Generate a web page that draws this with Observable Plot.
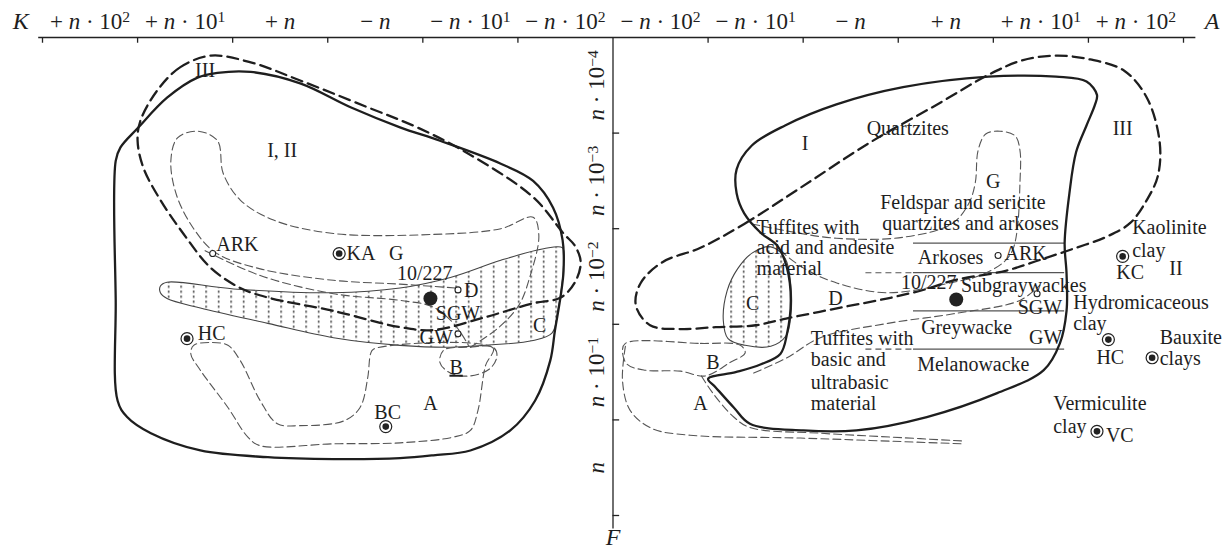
<!DOCTYPE html>
<html><head><meta charset="utf-8">
<script src="https://cdn.jsdelivr.net/npm/d3@7"></script>
<script src="https://cdn.jsdelivr.net/npm/@observablehq/plot@0.6"></script>
<style>body{margin:0;background:#fff}</style>
</head><body><div id="chart"></div>
<script>
// Diagram units: one axis interval = 100 units (x: 0..1200, y: 0..500 downward)
const xTicks = [0,100,200,300,400,500,600,700,800,900,1000,1100,1200];
const yTicks = [100,200,300,400,500];
const topLabels = ["+ n · 10^2","+ n · 10^1","+ n","− n","− n · 10^1","− n · 10^2","− n · 10^2","− n · 10^1","− n","+ n","+ n · 10^1","+ n · 10^2"];
const sideLabels = ["n · 10^−4","n · 10^−3","n · 10^−2","n · 10^−1","n"];

// ---- left diagram ----
const leftOuter = [[77,275],[77,129],[82,115],[100,95],[131,63],[163,42],[184,37],[219,36],[271,48],[324,73],[376,94],[418,108],[482,132],[516,150],[537,178],[547,212],[548,244],[545,270],[539,306],[534,338],[518,380],[492,411],[450,432],[411,437],[376,440],[306,441],[237,439],[166,432],[114,414],[89,397],[79,380]];
const leftIII = [[177,19],[145,31],[121,55],[103,87],[100,108],[106,136],[124,170],[148,205],[177,241],[208,262],[237,272],[306,286],[376,303],[411,306],[464,293],[516,278],[545,272],[560,256],[566,235],[560,218],[548,205],[516,167],[447,121],[394,94],[342,73],[271,45],[219,26]];
const leftG = [[434,262],[376,258],[306,254],[229,242],[182,225],[159,200],[141,165],[135,129],[142,105],[163,98],[184,108],[190,142],[208,170],[243,191],[306,205],[411,206],[482,200],[516,188],[522,207],[513,249],[501,280],[479,304],[450,324]];
const leftArkLine = [[171,223],[229,249],[306,268],[376,275],[411,282],[434,301],[448,322]];
const leftB = [[422,327],[418,340],[429,351],[450,354],[471,346],[478,333],[474,324],[448,324]];
const leftA = [[348,326],[474,325],[466,343],[458,390],[450,411],[432,418],[376,424],[306,425],[229,427],[216,418],[195,387],[166,348],[156,331],[159,322],[177,319],[195,322],[208,338],[229,380],[247,404],[271,406],[317,401],[334,387],[342,356],[345,331]];
const leftHatch = [[124,260],[131,256],[201,263],[306,267],[376,262],[429,251],[482,233],[527,221],[547,220],[548,238],[542,286],[536,309],[516,317],[464,322],[429,324],[376,322],[306,314],[237,299],[166,283],[131,273],[124,267]];

// ---- right diagram ----
const rightOuter = [[1109,60],[1098,46],[1066,41],[995,41],[905,52],[835,70],[781,92],[746,113],[730,138],[730,163],[738,184],[755,204],[773,218],[783,241],[787,275],[783,310],[776,331],[755,342],[729,350],[700,357],[708,366],[727,387],[744,404],[800,411],[856,411],[930,397],[1004,372],[1053,348],[1070,320],[1077,286],[1077,247],[1075,215],[1080,163],[1087,120],[1098,92],[1107,70]];
const rightIII = [[692,220],[738,195],[799,156],[870,110],[941,70],[995,39],[1030,24],[1066,19],[1102,23],[1138,35],[1162,64],[1175,110],[1173,145],[1162,169],[1144,194],[1120,208],[1084,221],[1048,233],[1013,244],[958,254],[930,263],[893,272],[842,282],[782,294],[750,301],[708,303],[671,305],[639,301],[624,280],[629,257],[652,235]];
const rightC = [[716,296],[720,265],[731,242],[747,225],[766,219],[781,231],[787,259],[787,291],[782,312],[766,323],[739,322],[721,315]];
const rightGD = [[746,195],[781,202],[835,210],[905,209],[956,195],[974,174],[981,152],[984,118],[992,101],[1007,98],[1023,103],[1028,118],[1028,152],[1025,202],[1020,223],[1011,235],[986,249],[958,256],[889,267],[836,257],[800,241],[776,223]];
const rightBline = [[748,351],[783,335],[818,314],[889,299],[958,289],[1028,275],[1049,259]];
const rightB = [[613,320],[692,320],[734,322],[739,330],[723,340],[697,354],[671,349],[634,348],[615,342],[610,329]];
const rightAouter = [[613,323],[610,359],[618,390],[641,409],[681,416],[797,419],[967,425]];
const rightAinner = [[693,354],[705,372],[727,397],[744,408],[819,414],[893,418],[967,422]];
const rockLevels = [215,246,286,326];          // boundaries between rock-name bands
const rockSpan = [916,1075];
const dashedLevels = [246,326];
const dashedSpan = [866,916];

// ---- labels ----
const plainLabels = [
  {x:171,y:35,t:"III"},{x:252,y:118,t:"I, II"},{x:205,y:217,t:"ARK"},{x:335,y:226,t:"KA"},{x:372,y:226,t:"G"},
  {x:402,y:247,t:"10/227"},{x:451,y:265,t:"D"},{x:437,y:289,t:"SGW"},{x:414,y:314,t:"GW"},{x:523,y:301,t:"C"},
  {x:178,y:310,t:"HC"},{x:408,y:383,t:"A"},{x:363,y:392,t:"BC"},
  {x:802,y:111,t:"I"},{x:910,y:95,t:"Quartzites"},{x:1136,y:95,t:"III"},{x:1000,y:151,t:"G"},
  {x:968,y:173,t:"Feldspar and sericite"},{x:976,y:195,t:"quartzites and arkoses"},
  {x:955,y:230,t:"Arkoses"},{x:1034,y:226,t:"ARK"},{x:1144,y:246,t:"KC"},{x:1192,y:242,t:"II"},
  {x:932,y:256,t:"10/227"},{x:1032,y:259,t:"Subgraywackes"},{x:834,y:273,t:"D"},{x:747,y:278,t:"C"},
  {x:1049,y:283,t:"SGW"},{x:1123,y:335,t:"HC"},{x:972,y:303,t:"Greywacke"},{x:1055,y:314,t:"GW"},
  {x:979,y:342,t:"Melanowacke"},{x:705,y:340,t:"B"},{x:692,y:383,t:"A"},{x:1133,y:416,t:"VC"},
  {x:435,y:345,t:"_B"}
];
const startLabels = [
  {x:751,y:199,t:"Tuffites with"},{x:751,y:220,t:"acid and andesite"},{x:751,y:242,t:"material"},
  {x:1146,y:199,t:"Kaolinite"},{x:1146,y:223,t:"clay"},
  {x:1084,y:277,t:"Hydromicaceous"},{x:1084,y:299,t:"clay"},
  {x:1175,y:314,t:"Bauxite"},{x:1175,y:336,t:"clays"},
  {x:808,y:315,t:"Tuffites with"},{x:808,y:337,t:"basic and"},{x:808,y:361,t:"ultrabasic"},{x:808,y:383,t:"material"},
  {x:1063,y:383,t:"Vermiculite"},{x:1063,y:407,t:"clay"}
];
const openPoints = [[179,226],[437,264],[437,310],[1005,228],[1046,268]];
const ringPoints = [[312,226],[152,315],[361,407],[1136,229],[1121,316],[1167,335],[1109,412]];
const samplePoints = [[408,273],[961,274]];

const X = d => d[0], Y = d => d[1];
const thick = {x:X, y:Y, stroke:"#1e1e1e", strokeWidth:2.3, curve:"catmull-rom-closed"};
const thickDash = {...thick, strokeDasharray:"11,6"};
const thinDash = {x:X, y:Y, stroke:"#555", strokeWidth:1.1, strokeDasharray:"8,4", curve:"catmull-rom"};

const plot = Plot.plot({
  width:1229, height:550,
  marginLeft:42, marginRight:46, marginTop:37, marginBottom:35,
  x:{domain:[0,1200], axis:null},
  y:{domain:[0,500], reverse:true, axis:null},
  style:{fontFamily:"'Liberation Serif', 'DejaVu Serif', serif", fontSize:"20px", background:"#fff", color:"#1e1e1e", overflow:"visible"},
  marks:[
    Plot.line(leftHatch, {x:X, y:Y, curve:"catmull-rom-closed", fill:"url(#vdots)", stroke:"#444", strokeWidth:1.1}),
    Plot.line(rightC, {x:X, y:Y, curve:"catmull-rom-closed", fill:"url(#vdots)", stroke:"#444", strokeWidth:1.1}),
    Plot.line(leftG, thinDash),
    Plot.line(leftArkLine, thinDash),
    Plot.line(leftB, {...thinDash, curve:"catmull-rom-closed"}),
    Plot.line(leftA, {...thinDash, curve:"catmull-rom-closed"}),
    Plot.line(rightGD, thinDash),
    Plot.line(rightBline, thinDash),
    Plot.line(rightB, {...thinDash, curve:"catmull-rom-closed"}),
    Plot.line(rightAouter, thinDash),
    Plot.line(rightAinner, thinDash),
    Plot.ruleY(rockLevels, {x1:rockSpan[0], x2:rockSpan[1], stroke:"#555", strokeWidth:1.2}),
    Plot.ruleY(dashedLevels, {x1:dashedSpan[0], x2:dashedSpan[1], stroke:"#555", strokeWidth:1.1, strokeDasharray:"6,4"}),
    Plot.line(leftOuter, thick),
    Plot.line(leftIII, thickDash),
    Plot.line(rightOuter, thick),
    Plot.line(rightIII, thickDash),
    // axes
    Plot.ruleY([0], {x1:xTicks[0]-4, x2:xTicks[xTicks.length-1]+13, stroke:"#222", strokeWidth:1.3}),
    Plot.ruleX(xTicks.filter(t => t !== 600), {y1:0, y2:6, stroke:"#222", strokeWidth:1.3}),
    Plot.ruleX([600], {y1:0, y2:514, stroke:"#222", strokeWidth:1.3}),
    Plot.ruleY(yTicks, {x1:600, x2:607, stroke:"#222", strokeWidth:1.3}),
    Plot.text(topLabels, {x:(d,i) => xTicks[i] + 50, y:-17, text:d => d, fontSize:23}),
    Plot.text(sideLabels, {x:583, y:(d,i) => (i === 0 ? 0 : yTicks[i-1]) + 50, text:d => d, rotate:-90, fontSize:23}),
    Plot.text(["K"], {x:-23, y:-17, text:d => d, fontStyle:"italic", fontSize:24}),
    Plot.text(["A"], {x:1230, y:-17, text:d => d, fontStyle:"italic", fontSize:24}),
    Plot.text(["F"], {x:600, y:523, text:d => d, fontStyle:"italic", fontSize:24}),
    Plot.dot(ringPoints, {x:X, y:Y, r:6, stroke:"#222", strokeWidth:1.2, fill:"#fff"}),
    Plot.dot(ringPoints, {x:X, y:Y, r:3.3, fill:"#222"}),
    Plot.dot(openPoints, {x:X, y:Y, r:3, stroke:"#222", strokeWidth:1.1, fill:"#fff"}),
    Plot.dot(samplePoints, {x:X, y:Y, r:7, fill:"#222"}),
    Plot.text(plainLabels, {x:"x", y:"y", text:"t", fontSize:20}),
    Plot.text(startLabels, {x:"x", y:"y", text:"t", fontSize:20, textAnchor:"start"})
  ]
});

const ns = "http://www.w3.org/2000/svg";
const defs = document.createElementNS(ns, "defs");
defs.innerHTML = '<pattern id="vdots" patternUnits="userSpaceOnUse" width="12.5" height="5"><rect x="5" y="0" width="1.3" height="2.4" fill="#333"/></pattern>';
plot.insertBefore(defs, plot.firstChild);

const mathSet = new Set([...topLabels, ...sideLabels]);
plot.querySelectorAll("text").forEach(t => {
  const s = t.textContent;
  if (mathSet.has(s)) {
    t.textContent = "";
    s.split(/(\^\S+|n)/).forEach(p => {
      if (!p) return;
      if (p === "n") {
        const ts = document.createElementNS(ns, "tspan"); ts.setAttribute("font-style","italic"); ts.textContent = "n"; t.appendChild(ts);
      } else if (p[0] === "^") {
        const ts = document.createElementNS(ns, "tspan"); ts.setAttribute("dy","-0.42em"); ts.setAttribute("font-size","0.68em"); ts.textContent = p.slice(1); t.appendChild(ts);
      } else t.appendChild(document.createTextNode(p));
    });
  } else if (s.startsWith("_")) {
    t.textContent = s.slice(1);
    t.style.textDecoration = "underline";
  }
});

document.getElementById("chart").appendChild(plot);
</script></body></html>
